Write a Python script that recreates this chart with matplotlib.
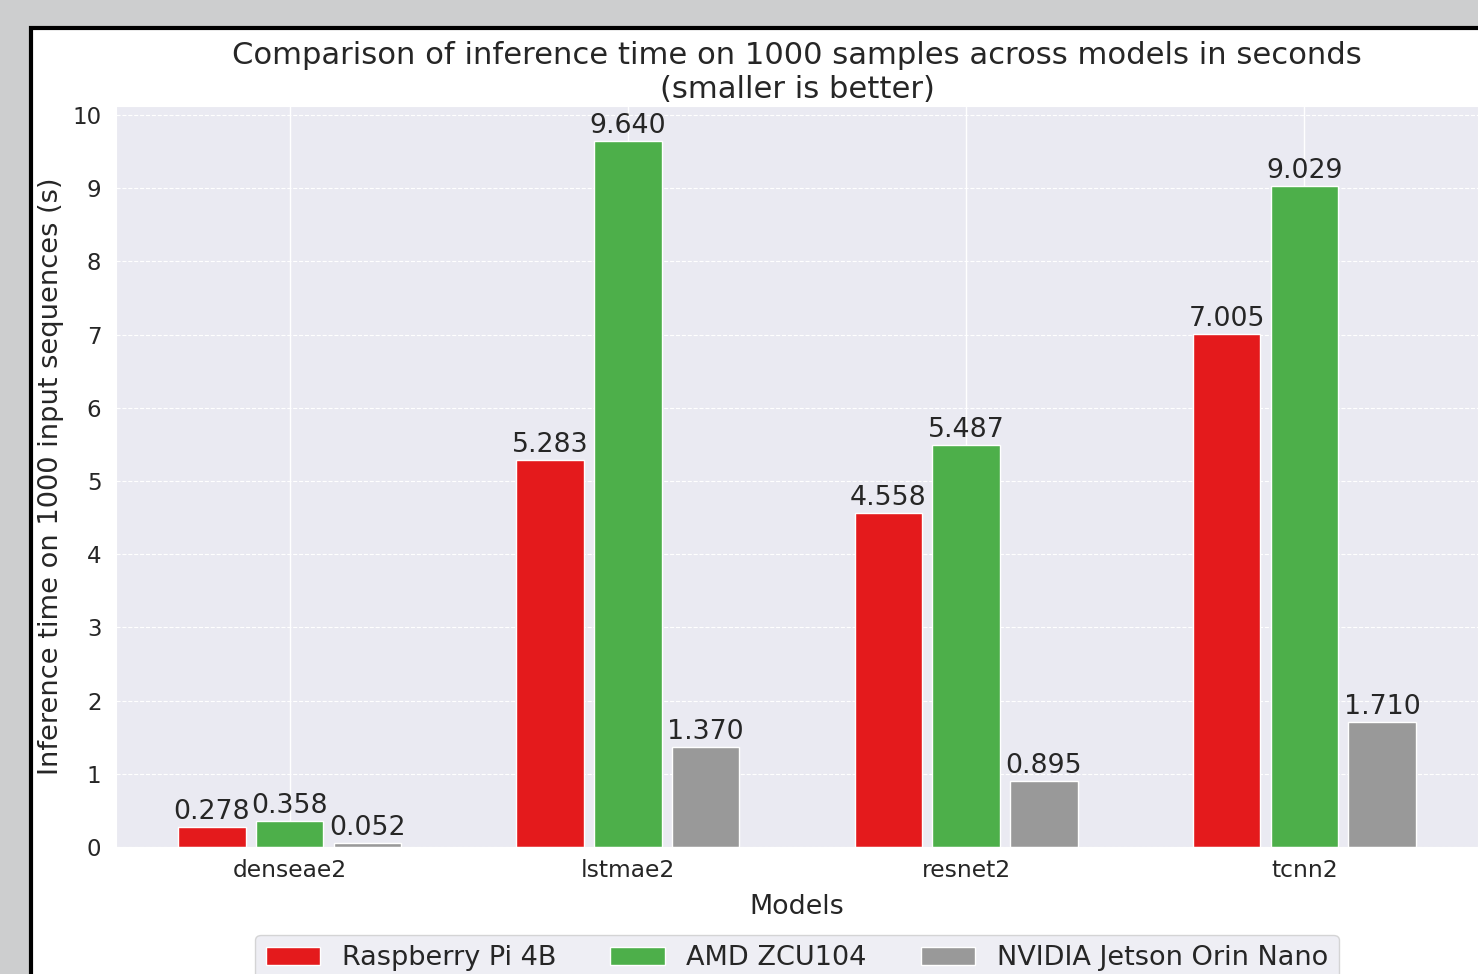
import matplotlib
matplotlib.use("Agg")
import matplotlib.pyplot as plt
import numpy as np
import seaborn as sns
from matplotlib.patches import Rectangle

models = ["denseae2", "lstmae2", "resnet2", "tcnn2"]
devices = ["Raspberry Pi 4B", "AMD ZCU104", "NVIDIA Jetson Orin Nano"]
rpi = [0.278, 5.283, 4.558, 7.005]
zcu = [0.358, 9.640, 5.487, 9.029]
jetson = [0.052, 1.370, 0.895, 1.710]
colors = ["#e41a1c", "#4daf4a", "#999999"]

sns.set_style("darkgrid")
plt.rcParams['font.family'] = ['DejaVu Sans']

W, H = 1478, 974
fig = plt.figure(figsize=(W / 100, H / 100), dpi=100)
fig.patch.set_facecolor("#cdcecf")
# white figure area with black border (screenshot look)
fig.patches.append(Rectangle((31 / W, -0.1), 1.2, (H - 28) / H + 0.1,
                             transform=fig.transFigure, facecolor="white",
                             edgecolor="black", linewidth=3, zorder=0))

ax = fig.add_axes([116 / W, 127 / H, (W - 116) / W, 741 / H])
ax.set_zorder(1)

x = np.arange(len(models))
offset = 0.23
width = 0.2
series = [rpi, zcu, jetson]
for i, (vals, col, lab) in enumerate(zip(series, colors, devices)):
    bars = ax.bar(x + (i - 1) * offset, vals, width, color=col, label=lab,
                  edgecolor="white", linewidth=1)
    for b, v in zip(bars, vals):
        ax.annotate(f"{v:.3f}", (b.get_x() + b.get_width() / 2, v),
                    xytext=(0, 1.5), textcoords="offset points",
                    ha="center", va="bottom", fontsize=19.3, color="#262626")

ax.set_xticks(x)
ax.set_xticklabels(models, fontsize=16.8)
ax.set_yticks(range(0, 11))
ax.tick_params(axis="y", labelsize=16.5, pad=7)
ax.tick_params(axis="x", pad=5)
ax.yaxis.grid(True, linestyle="--", linewidth=0.8)
ax.xaxis.grid(True, linestyle="-", linewidth=1)
ax.set_xlabel("Models", fontsize=19.4, labelpad=9)
ax.set_ylabel("Inference time on 1000 input sequences (s)", fontsize=19.6, labelpad=6)
ax.set_title("Comparison of inference time on 1000 samples across models in seconds\n(smaller is better)",
             fontsize=22.1, color="#262626", linespacing=1.2, pad=6)

ax.legend(loc="upper center", bbox_to_anchor=(0.5, -0.1), ncol=3,
          fontsize=19.5, frameon=True, columnspacing=2.0)

fig.savefig("out.png", dpi=100, facecolor=fig.get_facecolor())
